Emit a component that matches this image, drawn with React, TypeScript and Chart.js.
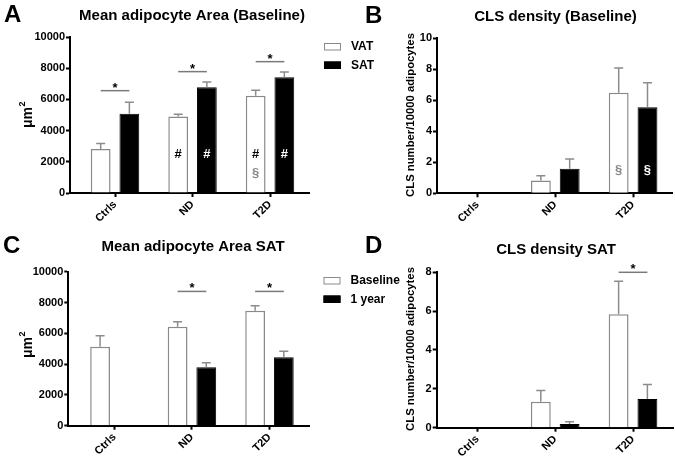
import React, { useEffect, useRef } from 'react';
import { Chart, registerables } from 'chart.js';

Chart.register(...registerables);

const FONT = '"Liberation Sans", Arial, Helvetica, sans-serif';
Chart.defaults.font.family = FONT;

// ---------- data ----------
const categories = ['Ctrls', 'ND', 'T2D'];

// A: Mean adipocyte Area (Baseline), µm²
const aVat = [2820, 4900, 6240];
const aVatSem = [360, 150, 340];
const aSat = [5080, 6780, 7420];
const aSatSem = [730, 340, 330];
const aSigCats = [0, 1, 2];
const aSigLevels = [6560, 7780, 8420];
const aMarkSeries = [0, 0, 1, 1, 0];
const aMarkCats = [1, 2, 1, 2, 2];
const aMarkText = ['#', '#', '#', '#', '§'];
const aMarkLevels = [2500, 2500, 2500, 2500, 1260];

// B: CLS density (Baseline)
const bVat = [0, 0.82, 6.49];
const bVatSem = [0, 0.31, 1.6];
const bSat = [0, 1.59, 5.55];
const bSatSem = [0, 0.62, 1.59];
const bMarkSeries = [0, 1];
const bMarkCats = [2, 2];
const bMarkText = ['§', '§'];
const bMarkLevels = [1.5, 1.5];

// C: Mean adipocyte Area SAT
const cBase = [5130, 6430, 7470];
const cBaseSem = [710, 320, 320];
const cYear = [null, 3790, 4440];
const cYearSem = [null, 300, 390];
const cSigCats = [1, 2];
const cSigLevels = [8720, 8720];

// D: CLS density SAT
const dBase = [0, 1.34, 5.84];
const dBaseSem = [0, 0.57, 1.7];
const dYear = [0, 0.19, 1.48];
const dYearSem = [0, 0.12, 0.75];
const dSigCats = [2];
const dSigLevels = [8.0];

const vatSatLabels = ['VAT', 'SAT'];
const timeLabels = ['Baseline', '1 year'];

// ---------- decoration plugin ----------
const decorPlugin = {
  id: 'decor',
  afterDatasetsDraw(chart: any, _a: any, o: any) {
    const ctx = chart.ctx as CanvasRenderingContext2D;
    const y = chart.scales.y;
    const metas = [chart.getDatasetMeta(0), chart.getDatasetMeta(1)];
    ctx.save();
    // error bars (upper only)
    chart.data.datasets.forEach((ds: any, s: number) => {
      ds.data.forEach((pt: any, i: number) => {
        const sem = ds.sem[i];
        if (pt.y == null || !sem) return;
        const el = metas[s].data[i];
        const top = y.getPixelForValue(pt.y + sem);
        ctx.strokeStyle = '#8c8c8c';
        ctx.lineWidth = 1.5;
        ctx.beginPath();
        ctx.moveTo(el.x, el.y);
        ctx.lineTo(el.x, top);
        ctx.moveTo(el.x - 4.5, top);
        ctx.lineTo(el.x + 4.5, top);
        ctx.stroke();
      });
    });
    // significance lines
    (o.sigCats || []).forEach((c: number, k: number) => {
      const ly = y.getPixelForValue(o.sigLevels[k]);
      const x0 = metas[0].data[c].x;
      const x1 = metas[1].data[c].x;
      ctx.strokeStyle = '#7a7a7a';
      ctx.lineWidth = 1.5;
      ctx.beginPath();
      ctx.moveTo(x0, ly);
      ctx.lineTo(x1, ly);
      ctx.stroke();
      ctx.fillStyle = '#000';
      ctx.font = `bold 13px ${FONT}`;
      ctx.textAlign = 'center';
      ctx.textBaseline = 'alphabetic';
      ctx.fillText('*', (x0 + x1) / 2, ly + 1);
    });
    // marks inside bars
    (o.markCats || []).forEach((c: number, k: number) => {
      const s = o.markSeries[k];
      const el = metas[s].data[c];
      const t = o.markText[k];
      ctx.font = `bold 13px ${FONT}`;
      ctx.textAlign = 'center';
      ctx.textBaseline = 'middle';
      ctx.fillStyle = s === 1 ? '#fff' : t === '§' ? '#888' : '#000';
      ctx.fillText(t, el.x, y.getPixelForValue(o.markLevels[k]));
    });
    ctx.restore();
  },
  afterDraw(chart: any, _a: any, o: any) {
    const ctx = chart.ctx as CanvasRenderingContext2D;
    ctx.save();
    ctx.fillStyle = '#000';
    // panel letter
    ctx.font = `bold 24px ${FONT}`;
    ctx.textAlign = 'left';
    ctx.textBaseline = 'alphabetic';
    ctx.fillText(o.letter[0], o.letter[1], o.letter[2]);
    // title
    ctx.font = `bold 15px ${FONT}`;
    ctx.textAlign = 'center';
    ctx.fillText(o.title[0], o.title[1], o.title[2]);
    // y title
    ctx.save();
    ctx.translate(o.yTitle[1], o.yTitle[2]);
    ctx.rotate(-Math.PI / 2);
    ctx.textBaseline = 'middle';
    if (o.yTitle[3]) {
      ctx.font = `bold 14px ${FONT}`;
      const w1 = ctx.measureText(o.yTitle[0]).width;
      ctx.font = `bold 9px ${FONT}`;
      const w2 = ctx.measureText(o.yTitle[3]).width;
      const start = -(w1 + w2) / 2;
      ctx.textAlign = 'left';
      ctx.font = `bold 14px ${FONT}`;
      ctx.fillText(o.yTitle[0], start, 0);
      ctx.font = `bold 9px ${FONT}`;
      ctx.fillText(o.yTitle[3], start + w1 + 0.5, -5);
    } else {
      ctx.font = `bold 11.3px ${FONT}`;
      ctx.textAlign = 'center';
      ctx.fillText(o.yTitle[0], 0, 0);
    }
    ctx.restore();
    // legend
    if (o.legend) {
      const [bx, ys] = o.legend;
      chart.data.datasets.forEach((ds: any, s: number) => {
        const by = ys[s];
        ctx.fillStyle = ds.backgroundColor;
        ctx.fillRect(bx, by, 17, 7.5);
        ctx.strokeStyle = ds.borderColor;
        ctx.lineWidth = 1;
        ctx.strokeRect(bx + 0.5, by + 0.5, 16, 6.5);
        ctx.fillStyle = '#000';
        ctx.font = `bold 12px ${FONT}`;
        ctx.textAlign = 'left';
        ctx.textBaseline = 'middle';
        ctx.fillText(ds.label, bx + 27, by + 4);
      });
    }
    ctx.restore();
  },
};

// ---------- chart builder ----------
function buildConfig(p: any) {
  const tickFont = { size: 11, weight: 'bold' as const, family: FONT };
  const grid = { offset: false, drawOnChartArea: false, drawTicks: true, tickLength: 4, tickColor: '#000', tickWidth: 2 };
  const border = { color: '#000', width: 2 };
  const mk = (vals: any[]) => vals.map((v, i) => ({ x: i, y: v }));
  return {
    type: 'bar',
    data: {
      datasets: [
        {
          label: p.labels[0], data: mk(p.series[0]), sem: p.sems[0],
          backgroundColor: '#ffffff', borderColor: '#8a8a8a', borderWidth: 1.5,
          categoryPercentage: 0.74, barPercentage: 0.69,
        },
        {
          label: p.labels[1], data: mk(p.series[1]), sem: p.sems[1],
          backgroundColor: '#000000', borderColor: '#000000', borderWidth: 1,
          categoryPercentage: 0.74, barPercentage: 0.69,
        },
      ],
    },
    options: {
      animation: false,
      responsive: false,
      maintainAspectRatio: false,
      layout: { padding: { top: p.area[2], right: p.w - p.area[1], bottom: 0, left: 0 } },
      plugins: {
        legend: { display: false },
        tooltip: { enabled: false },
        title: { display: false },
        decor: p.decor,
      },
      scales: {
        x: {
          type: 'linear',
          offset: false,
          bounds: 'data',
          min: p.xRange[0],
          max: p.xRange[1],
          afterFit: (s: any) => { s.height = p.h - p.area[3]; },
          afterBuildTicks: (s: any) => { s.ticks = categories.map((_, i) => ({ value: i })); },
          ticks: {
            includeBounds: false,
            stepSize: 1,
            callback: (v: any) => categories[v] ?? '',
            minRotation: 45, maxRotation: 45, autoSkip: false, padding: 1,
            color: '#000', font: tickFont,
          },
          grid, border,
        },
        y: {
          min: 0,
          max: p.yMax,
          afterFit: (s: any) => { s.width = p.area[0]; },
          ticks: {
            stepSize: p.yStep,
            callback: (v: any) => String(v),
            padding: 1, color: '#000', font: tickFont,
          },
          grid: { ...grid }, border,
        },
      },
    },
    plugins: [decorPlugin],
  } as any;
}

const panels = [
  {
    key: 'A', left: 0, top: 0, w: 400, h: 230,
    area: [70, 309, 37, 193], xRange: [-0.581, 2.503], yMax: 10000, yStep: 2000,
    labels: vatSatLabels, series: [aVat, aSat], sems: [aVatSem, aSatSem],
    decor: {
      letter: ['A', 4, 22], title: ['Mean adipocyte Area (Baseline)', 192, 20],
      yTitle: ['μm', 28, 115, '2'], legend: [324, [43, 61.5]],
      sigCats: aSigCats, sigLevels: aSigLevels,
      markSeries: aMarkSeries, markCats: aMarkCats, markText: aMarkText, markLevels: aMarkLevels,
    },
  },
  {
    key: 'B', left: 340, top: 0, w: 335, h: 230,
    area: [97, 332, 38.3, 193.3], xRange: [-0.52, 2.5], yMax: 10, yStep: 2,
    labels: vatSatLabels, series: [bVat, bSat], sems: [bVatSem, bSatSem],
    decor: {
      letter: ['B', 25, 22.5], title: ['CLS density (Baseline)', 215.5, 20.5],
      yTitle: ['CLS number/10000 adipocytes', 71, 115],
      markSeries: bMarkSeries, markCats: bMarkCats, markText: bMarkText, markLevels: bMarkLevels,
    },
  },
  {
    key: 'C', left: 0, top: 230, w: 400, h: 230,
    area: [68.3, 309, 41.7, 195.7], xRange: [-0.595, 2.51], yMax: 10000, yStep: 2000,
    labels: timeLabels, series: [cBase, cYear], sems: [cBaseSem, cYearSem],
    decor: {
      letter: ['C', 3, 23], title: ['Mean adipocyte Area SAT', 193, 20.5],
      yTitle: ['μm', 28, 115, '2'], legend: [323.5, [47, 65.5]],
      sigCats: cSigCats, sigLevels: cSigLevels,
    },
  },
  {
    key: 'D', left: 340, top: 230, w: 335, h: 230,
    area: [96.7, 333, 42.3, 197.7], xRange: [-0.523, 2.514], yMax: 8, yStep: 2,
    labels: timeLabels, series: [dBase, dYear], sems: [dBaseSem, dYearSem],
    decor: {
      letter: ['D', 25, 23], title: ['CLS density SAT', 216, 24],
      yTitle: ['CLS number/10000 adipocytes', 71, 119],
      sigCats: dSigCats, sigLevels: dSigLevels,
    },
  },
];

function Panel({ p }: { p: any }) {
  const ref = useRef<HTMLCanvasElement>(null);
  useEffect(() => {
    if (!ref.current) return;
    const chart = new Chart(ref.current, buildConfig(p));
    return () => chart.destroy();
  }, [p]);
  return (
    <canvas
      ref={ref}
      width={p.w}
      height={p.h}
      style={{ position: 'absolute', left: p.left, top: p.top, width: p.w, height: p.h }}
    />
  );
}

export default function App() {
  return (
    <div style={{ position: 'fixed', left: 0, top: 0, width: 675, height: 460, background: '#fff', overflow: 'hidden' }}>
      {panels.map((p) => (
        <Panel key={p.key} p={p} />
      ))}
    </div>
  );
}
